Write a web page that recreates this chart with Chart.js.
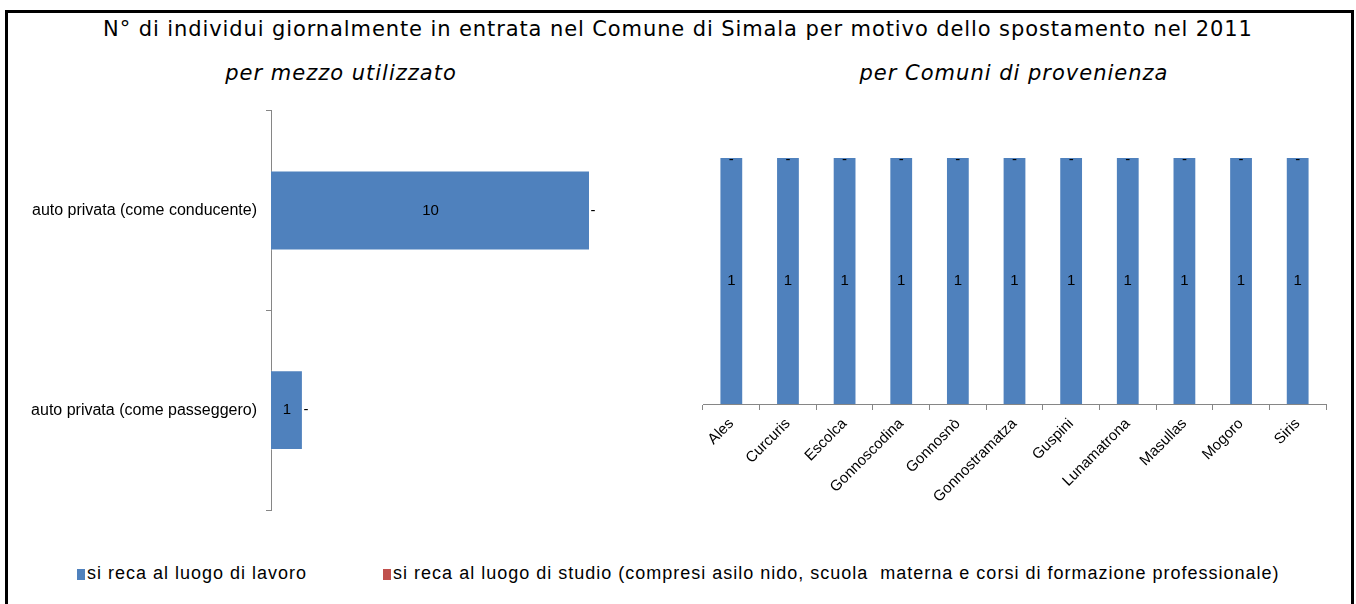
<!DOCTYPE html>
<html>
<head>
<meta charset="utf-8">
<script src="https://cdn.jsdelivr.net/npm/chart.js@4"></script>
<style>
  body { margin: 0; background: #fff; }
  #frame { position: absolute; left: 5px; top: 10px; width: 1343px; height: 620px; border: 3px solid #000; }
  .txt { position: absolute; white-space: nowrap; color: #000; }
  #title { left: 0; width: 1356px; top: 17px; text-align: center; font: 21px "DejaVu Sans", sans-serif; letter-spacing: 0.9px; }
  .sub { top: 61px; font: italic 21px "DejaVu Sans", sans-serif; letter-spacing: 1px; transform: translateX(-50%); }
  #legend { left: 77px; top: 563px; font: 18px "Liberation Sans", sans-serif; letter-spacing: 1px; }
  #legend span.sw { display: inline-block; width: 8px; height: 11px; margin-right: 2px; vertical-align: -1px; }
  .wrap { position: absolute; }
</style>
</head>
<body>
<div id="frame"></div>
<div id="title" class="txt">N° di individui giornalmente in entrata nel Comune di Simala per motivo dello spostamento nel 2011</div>
<div class="txt sub" style="left:341px">per mezzo utilizzato</div>
<div class="txt sub" style="left:1014px">per Comuni di provenienza</div>
<div class="wrap" style="left:0;top:92px;width:640px;height:438px"><canvas id="left"></canvas></div>
<div class="wrap" style="left:660px;top:100px;width:690px;height:440px"><canvas id="right"></canvas></div>
<div id="legend" class="txt"></div>
<script>
// serie
const seriesNames = ['si reca al luogo di lavoro', 'si reca al luogo di studio (compresi asilo nido, scuola  materna e corsi di formazione professionale)'];
const seriesColors = ['#4F81BD', '#C0504D'];

// per mezzo utilizzato
const mezzi = ['auto privata (come conducente)', 'auto privata (come passeggero)'];
const mezziLavoro = [10, 1];
const mezziStudio = [0, 0];

// per Comuni di provenienza
const comuni = ['Ales', 'Curcuris', 'Escolca', 'Gonnoscodina', 'Gonnosnò', 'Gonnostramatza', 'Guspini', 'Lunamatrona', 'Masullas', 'Mogoro', 'Siris'];
const comuniLavoro = [1, 1, 1, 1, 1, 1, 1, 1, 1, 1, 1];
const comuniStudio = [0, 0, 0, 0, 0, 0, 0, 0, 0, 0, 0];

const tickFont = { family: '"Liberation Sans", sans-serif', size: 16 };
const axisColor = '#868686';

// etichette dei valori (0 -> "-")
const valueLabels = {
  id: 'valueLabels',
  afterDatasetsDraw(chart) {
    const ctx = chart.ctx;
    ctx.save();
    ctx.font = '15px "Liberation Sans", sans-serif';
    ctx.fillStyle = '#000';
    ctx.textAlign = 'center';
    ctx.textBaseline = 'middle';
    chart.data.datasets.forEach((ds, i) => {
      chart.getDatasetMeta(i).data.forEach((el, j) => {
        const v = ds.data[j];
        if (v === 0) {
          const horiz = chart.options.indexAxis === 'y';
          ctx.fillText('-', el.x + (horiz ? 3 : 0), el.y + (horiz ? 0 : 3));
        } else {
          const p = el.getCenterPoint();
          ctx.fillText(String(v), p.x, p.y);
        }
      });
    });
    ctx.restore();
  }
};

function makeDatasets(lavoro, studio, pct) {
  return [lavoro, studio].map((d, i) => ({
    label: seriesNames[i],
    data: d,
    backgroundColor: seriesColors[i],
    borderColor: 'rgba(255,255,255,0.35)',
    borderWidth: 1,
    categoryPercentage: pct,
    barPercentage: 1
  }));
}

new Chart(document.getElementById('left'), {
  type: 'bar',
  data: { labels: mezzi, datasets: makeDatasets(mezziLavoro, mezziStudio, 0.4) },
  options: {
    indexAxis: 'y',
    responsive: true,
    maintainAspectRatio: false,
    animation: false,
    layout: { padding: { top: 0, bottom: 20, right: 50, left: 0 } },
    plugins: { legend: { display: false }, tooltip: { enabled: false } },
    scales: {
      x: { stacked: true, display: false, min: 0, max: 10 },
      y: {
        stacked: true,
        grid: { offset: true, drawOnChartArea: false, tickLength: 5, color: axisColor },
        border: { display: true, color: axisColor },
        ticks: { color: '#000', font: tickFont, padding: 9 },
        afterFit(axis) { axis.width = 271; }
      }
    }
  },
  plugins: [valueLabels]
});

new Chart(document.getElementById('right'), {
  type: 'bar',
  data: { labels: comuni, datasets: makeDatasets(comuniLavoro, comuniStudio, 0.42) },
  options: {
    responsive: true,
    maintainAspectRatio: false,
    animation: false,
    layout: { padding: { top: 57, bottom: 0, right: 24, left: 43 } },
    plugins: { legend: { display: false }, tooltip: { enabled: false } },
    scales: {
      y: { stacked: true, display: false, min: 0, max: 1 },
      x: {
        stacked: true,
        grid: { offset: true, drawOnChartArea: false, tickLength: 6, color: axisColor },
        border: { display: true, color: axisColor },
        ticks: { color: '#000', font: { family: tickFont.family, size: 15 }, minRotation: 45, maxRotation: 45, padding: 5 },
        afterFit(axis) { axis.height = 136; }
      }
    }
  },
  plugins: [valueLabels]
});

// legenda
const legend = document.getElementById('legend');
seriesNames.forEach((name, i) => {
  const sw = document.createElement('span');
  sw.className = 'sw';
  sw.style.background = seriesColors[i];
  legend.appendChild(sw);
  legend.appendChild(document.createTextNode(name));
  if (i === 0) {
    const gap = document.createElement('span');
    gap.style.display = 'inline-block';
    gap.style.width = '76px';
    legend.appendChild(gap);
  }
});
legend.style.whiteSpace = 'pre';
</script>
</body>
</html>
